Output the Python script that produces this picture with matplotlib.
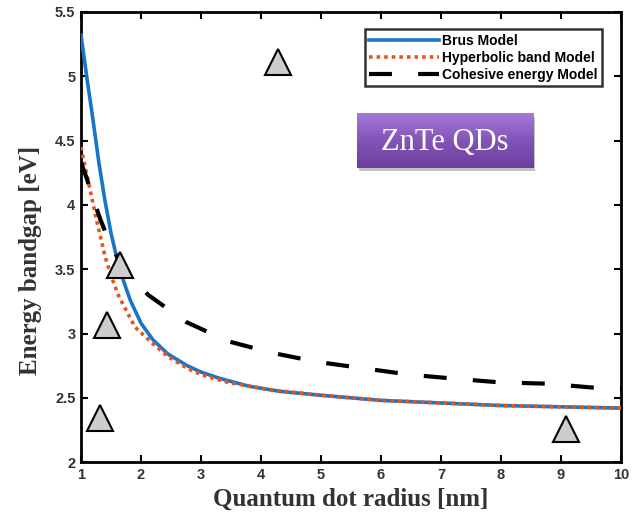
import numpy as np
import matplotlib
matplotlib.use('Agg')
import matplotlib.pyplot as plt
from matplotlib.patches import FancyBboxPatch

# values
brus_x = [1.0, 1.1, 1.2, 1.3, 1.4, 1.5, 1.6, 1.7, 1.82, 2.0, 2.2, 2.45, 2.77,
          3.0, 3.32, 3.8, 4.32, 5.0, 6.0, 7.0, 8.0, 9.0, 10.0]
brus_y = [5.32, 4.98, 4.66, 4.32, 4.03, 3.78, 3.58, 3.42, 3.26, 3.08, 2.95, 2.84,
          2.75, 2.70, 2.65, 2.59, 2.55, 2.52, 2.48, 2.46, 2.44, 2.43, 2.42]

hyp_x = [1.0, 1.07, 1.15, 1.25, 1.4, 1.5, 1.62, 1.73, 1.9, 2.2, 2.45, 2.77,
         3.0, 3.45, 4.18, 5.0, 6.0, 7.0, 8.0, 9.0, 10.0]
hyp_y = [4.45, 4.29, 4.12, 3.90, 3.60, 3.45, 3.30, 3.20, 3.05, 2.92, 2.82, 2.73,
         2.68, 2.62, 2.56, 2.52, 2.48, 2.46, 2.44, 2.43, 2.42]

coh_x = [1.0, 1.1, 1.2, 1.32, 1.5, 1.75, 2.12, 2.75, 3.45, 4.18, 4.93, 5.7,
         6.48, 7.2, 7.98, 8.77, 9.52, 10.0]
coh_y = [4.33, 4.20, 4.05, 3.89, 3.68, 3.48, 3.30, 3.09, 2.94, 2.85, 2.78, 2.73,
         2.68, 2.65, 2.62, 2.61, 2.58, 2.57]

tri_x = [1.32, 1.43, 1.65, 4.28, 9.08]
tri_y = [2.34, 3.07, 3.53, 5.11, 2.26]

labels = ['Brus Model', 'Hyperbolic band Model', 'Cohesive energy Model']

fig = plt.figure(figsize=(6.33, 5.21), dpi=100)
ax = fig.add_axes([0.128, 0.113, 0.853, 0.864])

ax.plot(brus_x, brus_y, color='#1a75c9', lw=2.6, label=labels[0], zorder=3)
ax.plot(hyp_x, hyp_y, color='#e8531c', lw=2.6, linestyle=(0, (1, 1.1)),
        label=labels[1], zorder=4)
ax.plot(coh_x, coh_y, color='black', lw=3, linestyle=(0, (5.5, 6.3)),
        label=labels[2], zorder=5)

ax.plot(tri_x, tri_y, linestyle='none', marker='^', markersize=19,
        markerfacecolor='#cdcdcd', markeredgecolor='black', markeredgewidth=1.5,
        zorder=6)

ax.set_xlim(1, 10)
ax.set_ylim(2, 5.5)
ax.set_xticks(range(1, 11))
ax.set_yticks([2, 2.5, 3, 3.5, 4, 4.5, 5, 5.5])
ax.set_yticklabels(['2', '2.5', '3', '3.5', '4', '4.5', '5', '5.5'])
ax.tick_params(direction='in', length=5, width=1.5, top=True, right=True,
               labelsize=10.5, labelcolor='#333333', pad=4)
for lab in ax.get_xticklabels() + ax.get_yticklabels():
    lab.set_fontweight('bold')
    lab.set_family('Liberation Sans')
for sp in ax.spines.values():
    sp.set_linewidth(2)

ax.set_xlabel('Quantum dot radius [nm]', fontsize=18, fontweight='bold',
              family='Liberation Serif', color='#333333')
ax.set_ylabel('Energy bandgap [eV]', fontsize=18, fontweight='bold',
              family='Liberation Serif', color='#333333')
ax.xaxis.set_label_coords(0.5, -0.056)
ax.yaxis.set_label_coords(-0.072, 0.449)

leg = ax.legend(loc='upper right', bbox_to_anchor=(0.965, 0.962),
                prop={'family': 'Liberation Sans', 'weight': 'bold', 'size': 10},
                handlelength=5.0, handletextpad=0.2, borderpad=0.35,
                labelspacing=0.2, fancybox=False, borderaxespad=0)
leg.get_frame().set_edgecolor('black')
leg.get_frame().set_linewidth(1.8)

# purple label box with a vertical gradient
x0, y0, w, h = 0.511, 0.654, 0.326, 0.12
shadow = FancyBboxPatch((x0 + 0.004, y0 - 0.008), w, h,
                        boxstyle='square,pad=0', transform=ax.transAxes,
                        facecolor='#9a9a9a', edgecolor='none', alpha=0.6,
                        zorder=7)
ax.add_patch(shadow)
grad = np.linspace(0, 1, 64).reshape(-1, 1)
cmap = matplotlib.colors.LinearSegmentedColormap.from_list(
    'pp', ['#6b3f9e', '#8354b8', '#a57ad6'])
ax.imshow(grad, cmap=cmap, aspect='auto', origin='lower',
          extent=(x0, x0 + w, y0, y0 + h), transform=ax.transAxes, zorder=8)
ax.set_xlim(1, 10)
ax.set_ylim(2, 5.5)
ax.text(x0 + w / 2, y0 + h / 2 - 0.004, 'ZnTe QDs', transform=ax.transAxes,
        ha='center', va='center', color='white', fontsize=22,
        family='Liberation Serif', zorder=9)

fig.savefig('out.png', dpi=100)
